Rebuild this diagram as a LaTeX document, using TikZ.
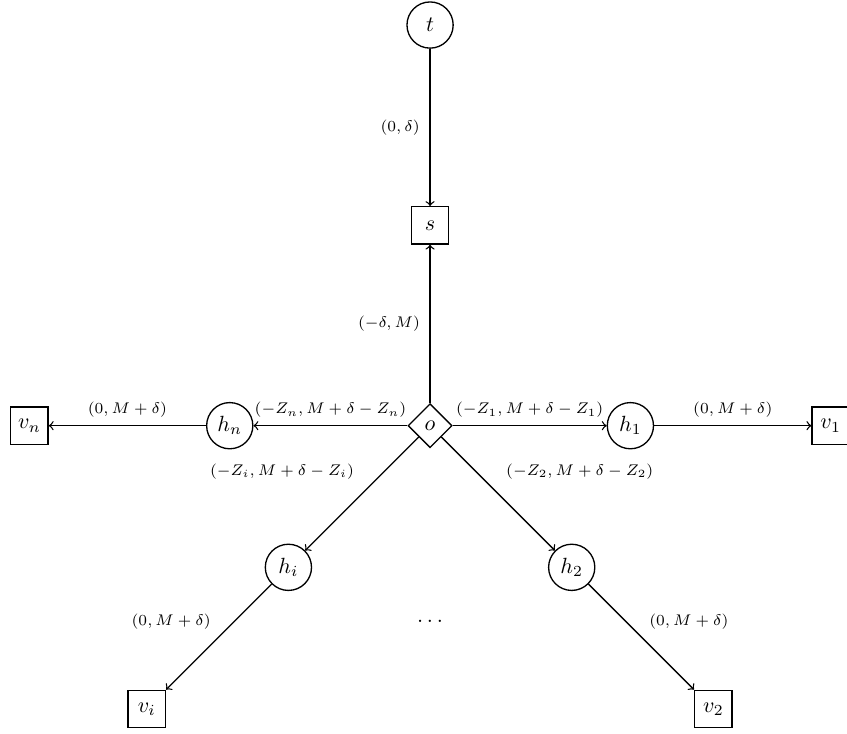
\documentclass[tikz,border=0pt]{standalone}
\usetikzlibrary{shapes.geometric}
\begin{document}
\begin{tikzpicture}[semithick,
  vertex/.style={draw, circle, minimum size=21pt, inner sep=1pt},
  terminal/.style={draw, rectangle, minimum size=17pt, inner sep=2pt},
  hub/.style={draw, diamond, minimum size=20pt, inner sep=1pt},
  cost/.style={font=\scriptsize}]
\useasboundingbox (-6.87,-4.92) rectangle (6.66,6.80);
\node [hub] (o) at (0,0) {$o$};
\node [terminal] (s) at (90:3.2) {$s$};
\node [vertex] (t) at (90:6.4) {$t$};
\node [vertex] (h1) at (0:3.2) {$h_1$};
\node [terminal] (v1) at (0:6.4) {$v_1$};
\node [vertex] (hn) at (180:3.2) {$h_n$};
\node [terminal] (vn) at (180:6.4) {$v_n$};
\node [vertex] (h2) at (-45:3.2) {$h_2$};
\node [terminal] (v2) at (-45:6.4) {$v_2$};
\node [vertex] (hi) at (-135:3.2) {$h_i$};
\node [terminal] (vi) at (-135:6.4) {$v_i$};
\node (dots) at (0,-3.13) {$\dots$};
\draw [->] (t) -- node [cost, left, xshift=-1pt] {$(0, \delta)$} (s);
\draw [->] (o) -- node [cost, left, xshift=-1pt] {$(-\delta, M)$} (s);
\draw [->] (o) -- node [cost, above] {$(-Z_1, M+\delta-Z_1)$} (h1);
\draw [->] (h1) -- node [cost, above] {$(0, M+\delta)$} (v1);
\draw [->] (o) -- node [cost, above] {$(-Z_n, M+\delta-Z_n)$} (hn);
\draw [->] (hn) -- node [cost, above] {$(0, M+\delta)$} (vn);
\draw [->] (o) -- node [cost, above right, yshift=3pt] {$(-Z_2, M+\delta-Z_2)$} (h2);
\draw [->] (h2) -- node [cost, above right] {$(0, M+\delta)$} (v2);
\draw [->] (o) -- node [cost, above left, yshift=3pt] {$(-Z_i, M+\delta-Z_i)$} (hi);
\draw [->] (hi) -- node [cost, above left] {$(0, M+\delta)$} (vi);
\end{tikzpicture}
\end{document}
